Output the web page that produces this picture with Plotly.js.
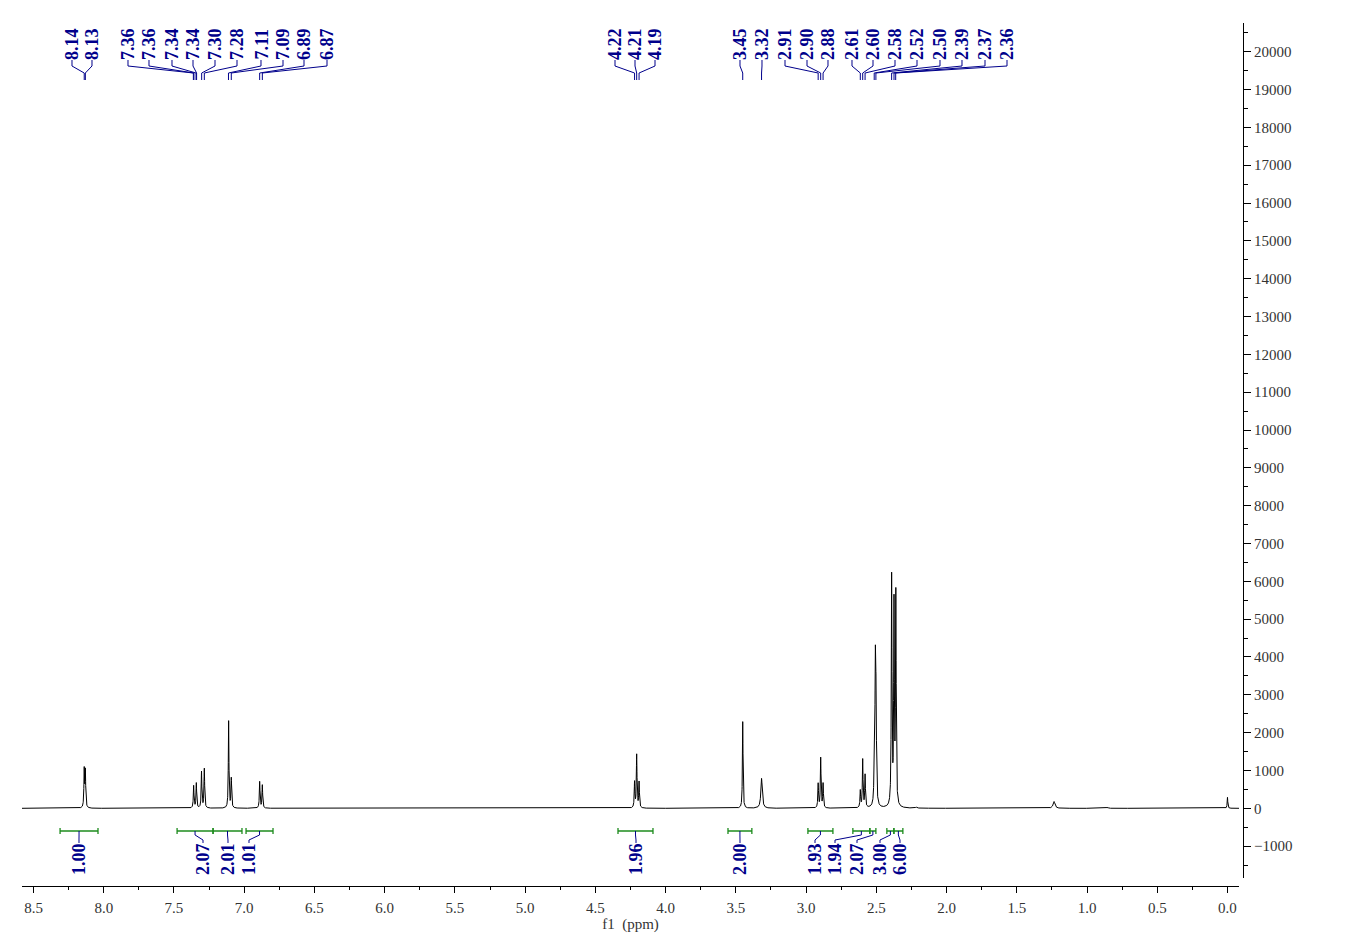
<!DOCTYPE html>
<html><head><meta charset="utf-8">
<script src="https://cdn.plot.ly/plotly-3.0.1.min.js"></script>
<style>html,body{margin:0;padding:0;background:#fff}#chart{width:1348px;height:952px}</style>
</head><body><div id="chart"></div>
<script>
// ---------------- data ----------------
const peakPpm    = [8.139, 8.131, 7.360, 7.341, 7.304, 7.284, 7.111, 7.092, 6.890, 6.871,
                    5.320, 4.221, 4.206, 4.189, 3.451, 3.317, 2.914, 2.896, 2.879,
                    2.614, 2.597, 2.580, 2.515, 2.507, 2.502, 2.391, 2.374, 2.361,
                    2.215, 1.235, 0.855, 0.000];
const peakHeight = [1000, 960, 590, 660, 960, 1040, 2300, 780, 700, 610,
                    18, 680, 1400, 680, 2290, 790, 640, 1320, 640,
                    450, 1270, 860, 800, 3500, 2400, 6050, 5250, 5550,
                    30, 180, 25, 290];
const peakHwhm   = [0.0028, 0.0028, 0.0028, 0.0028, 0.0028, 0.0028, 0.0026, 0.0028, 0.0028, 0.0028,
                    0.006, 0.0028, 0.0028, 0.0028, 0.0026, 0.006, 0.0028, 0.0028, 0.0028,
                    0.0028, 0.0028, 0.0028, 0.003, 0.0032, 0.0032, 0.0028, 0.0028, 0.0028,
                    0.005, 0.008, 0.006, 0.0025];

const peakLabelPpm = [8.139, 8.131, 7.362, 7.358, 7.343, 7.339, 7.303, 7.284, 7.112, 7.092, 6.890, 6.871,
                      4.221, 4.206, 4.189,
                      3.451, 3.317, 2.914, 2.896, 2.879, 2.614, 2.597, 2.580, 2.515, 2.503, 2.391, 2.374, 2.362];

const integralFrom  = [8.311, 7.478, 7.222, 6.987, 4.339, 3.556, 2.987, 2.667, 2.546, 2.425, 2.375];
const integralTo    = [8.041, 7.222, 7.016, 6.795, 4.090, 3.386, 2.809, 2.546, 2.503, 2.375, 2.311];
const integralValue = [1.00, 2.07, 2.01, 1.01, 1.96, 2.00, 1.93, 1.94, 2.07, 3.00, 6.00];

// ---------------- layout constants ----------------
const W = 1348, H = 952;
const M = {l: 22, r: 105, t: 23, b: 66};
const plotW = W - M.l - M.r, plotH = H - M.t - M.b;
const XR = [8.582, -0.082];          // x axis range (reversed)
const YR = [-1850, 20759];
const xAxisEndPx = 1239, yAxisEndPx = 878.3;
// label slot positions (pixels)
const peakLabelX = [72, 92, 128, 149, 172, 193, 215, 237, 261, 283, 304, 327,
                    615, 635, 655,
                    740, 762, 785, 807, 828, 852, 873, 895, 917, 940, 962, 985, 1007];
const integralLabelX = [79, 203, 228, 249, 636, 740, 815, 835, 857, 880, 900];

const NAVY = '#00008B', GREEN = '#1E8C1E';
const serif = 'Liberation Serif, Times New Roman, serif';

const pxX = px => (px - M.l) / plotW;
const pyY = py => (H - M.b - py) / plotH;
const ppmToPx = p => M.l + (XR[0] - p) / (XR[0] - XR[1]) * (xAxisEndPx - M.l);

// ---------------- spectrum line from the peak list ----------------
const step = 0.0005;
const n = Math.round((XR[0] - XR[1]) / step);
const xs = new Array(n + 1), ys = new Array(n + 1);
for (let i = 0; i <= n; i++) {
  const x = XR[0] - i * step;
  let y = 0;
  for (let k = 0; k < peakPpm.length; k++) {
    const d = x - peakPpm[k], w = peakHwhm[k];
    y += peakHeight[k] * w * w / (d * d + w * w);
  }
  xs[i] = x; ys[i] = y;
}

const traces = [{
  type: 'scatter', mode: 'lines', x: xs, y: ys,
  line: {color: '#000', width: 1}, hoverinfo: 'skip', showlegend: false
}];

// ---------------- annotations & shapes ----------------
const annotations = [], shapes = [];
const path = pts => pts.map((p, i) => (i ? 'L' : 'M') + pxX(p[0]).toFixed(5) + ',' + pyY(p[1]).toFixed(5)).join(' ');

peakLabelPpm.forEach((p, i) => {
  const lx = peakLabelX[i], tx = ppmToPx(p);
  annotations.push({
    xref: 'paper', yref: 'paper', x: pxX(lx), y: pyY(61), xanchor: 'center', yanchor: 'bottom',
    text: '<b>' + p.toFixed(2) + '</b>', textangle: -90, showarrow: false, borderpad: 0,
    font: {family: serif, size: 18, color: NAVY}
  });
  shapes.push({type: 'path', xref: 'paper', yref: 'paper', layer: 'above',
    path: path([[lx, 60], [lx, 66], [tx, 73], [tx, 80]]), line: {color: NAVY, width: 1}});
});

integralValue.forEach((v, i) => {
  const a = ppmToPx(integralFrom[i]), b = ppmToPx(integralTo[i]);
  const cx = (a + b) / 2, lx = integralLabelX[i];
  shapes.push({type: 'path', xref: 'paper', yref: 'paper', layer: 'above',
    path: path([[a, 831], [b, 831]]) + ' ' + path([[a, 828], [a, 834]]) + ' ' + path([[b, 828], [b, 834]]),
    line: {color: GREEN, width: 1.3}});
  shapes.push({type: 'path', xref: 'paper', yref: 'paper', layer: 'above',
    path: path([[cx, 831], [cx, 835], [lx, 840], [lx, 843]]), line: {color: NAVY, width: 1}});
  annotations.push({
    xref: 'paper', yref: 'paper', x: pxX(lx), y: pyY(842), xanchor: 'center', yanchor: 'top',
    text: '<b>' + v.toFixed(2) + '</b>', textangle: -90, showarrow: false, borderpad: 0,
    font: {family: serif, size: 18, color: NAVY}
  });
});

const layout = {
  width: W, height: H, margin: M, paper_bgcolor: '#fff', plot_bgcolor: '#fff',
  showlegend: false,
  font: {family: serif, size: 15, color: '#333'},
  xaxis: {
    range: XR, domain: [0, pxX(xAxisEndPx)], anchor: 'free', position: 0,
    showgrid: false, zeroline: false, showline: true, linecolor: '#000', linewidth: 1,
    ticks: 'outside', ticklen: 6, tickwidth: 1, tickcolor: '#000',
    tick0: 0, dtick: 0.5, tickformat: '.1f', ticklabelstandoff: 2,
    minor: {dtick: 0.25, ticks: 'outside', ticklen: 3, tickwidth: 1, tickcolor: '#000'},
    tickfont: {family: serif, size: 15, color: '#333'},
    title: {text: 'f1\u00a0\u00a0(ppm)', font: {family: serif, size: 15, color: '#333'}, standoff: 0}
  },
  yaxis: {
    range: YR, domain: [pyY(yAxisEndPx), 1], side: 'right', anchor: 'free', position: 1,
    showgrid: false, zeroline: false, showline: true, linecolor: '#000', linewidth: 1,
    ticks: 'outside', ticklen: 7, tickwidth: 1, tickcolor: '#000',
    tick0: 0, dtick: 1000, tickformat: 'd',
    minor: {dtick: 500, ticks: 'outside', ticklen: 4, tickwidth: 1, tickcolor: '#000'},
    tickfont: {family: serif, size: 15, color: '#333'}
  },
  annotations: annotations,
  shapes: shapes
};

Plotly.newPlot('chart', traces, layout, {displayModeBar: false, staticPlot: true});
</script>
</body></html>
